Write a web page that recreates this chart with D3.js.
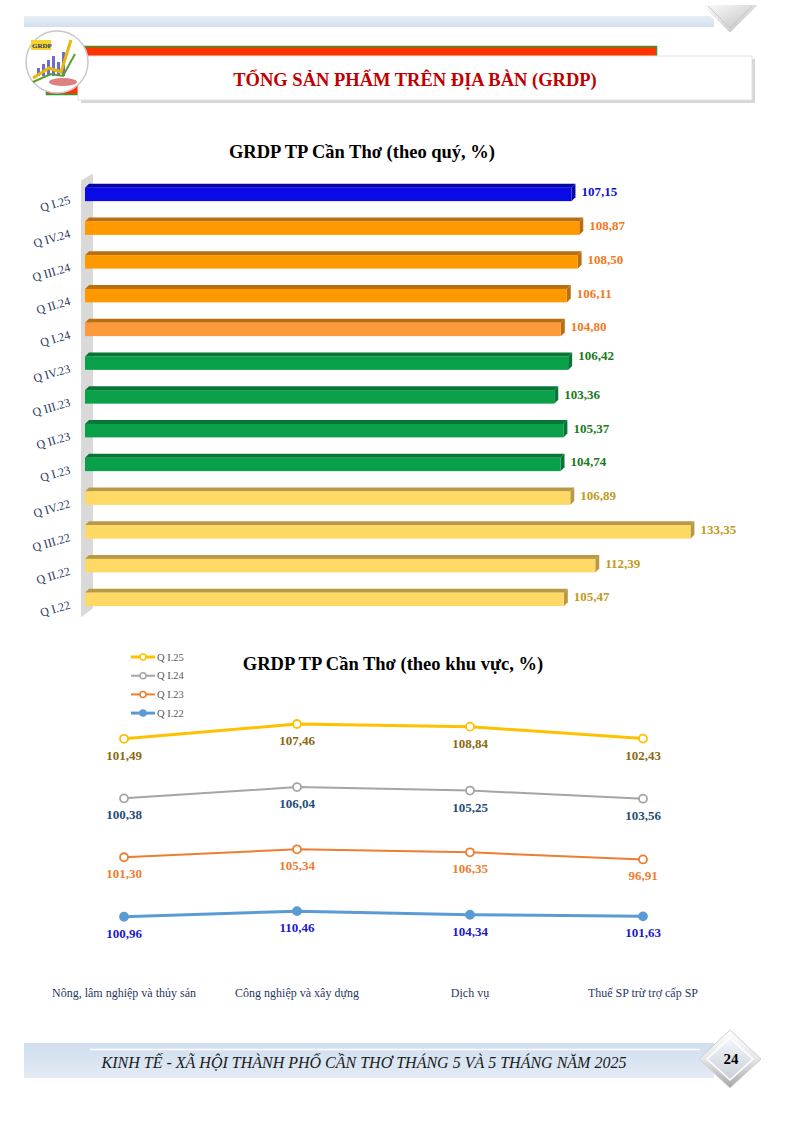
<!DOCTYPE html>
<html>
<head>
<meta charset="utf-8">
<style>
  body { margin: 0; background: #fff; }
  svg text { font-family: "Liberation Serif", "Times New Roman", serif; }
</style>
</head>
<body>
<script src="https://d3js.org/d3.v7.min.js"></script>
<script>
// ---- data ----
var quarters = ["Q I.25", "Q IV.24", "Q III.24", "Q II.24", "Q I.24", "Q IV.23", "Q III.23",
                "Q II.23", "Q I.23", "Q IV.22", "Q III.22", "Q II.22", "Q I.22"];
var quarterValues = [107.15, 108.87, 108.50, 106.11, 104.80, 106.42, 103.36,
                     105.37, 104.74, 106.89, 133.35, 112.39, 105.47];

var sectors = ["Nông, lâm nghiệp và thủy sản", "Công nghiệp và xây dựng", "Dịch vụ", "Thuế SP trừ trợ cấp SP"];
var seriesNames = ["Q I.25", "Q I.24", "Q I.23", "Q I.22"];
var q125 = [101.49, 107.46, 108.84, 102.43];
var q124 = [100.38, 106.04, 105.25, 103.56];
var q123 = [101.30, 105.34, 106.35, 96.91];
var q122 = [100.96, 110.46, 104.34, 101.63];

var fmt = function(v) { return d3.format(".2f")(v).replace(".", ","); };

var W = 794, H = 1122;
var svg = d3.select("body").append("svg").attr("width", W).attr("height", H);
var defs = svg.append("defs");

// ---- page decoration: header ----
var gTop = defs.append("linearGradient").attr("id", "band").attr("x1", 0).attr("y1", 0).attr("x2", 0).attr("y2", 1);
gTop.append("stop").attr("offset", 0).attr("stop-color", "#e9eff7");
gTop.append("stop").attr("offset", 1).attr("stop-color", "#d3dfee");
svg.append("rect").attr("x", 24).attr("y", 16).attr("width", 690).attr("height", 11).attr("fill", "url(#band)");
var dg = defs.append("linearGradient").attr("id", "dia").attr("x1", 0).attr("y1", 0).attr("x2", 1).attr("y2", 1);
dg.append("stop").attr("offset", 0).attr("stop-color", "#ffffff");
dg.append("stop").attr("offset", 1).attr("stop-color", "#b8b8b8");
svg.append("path").attr("d", "M700,4 L730,34 L760,4 Z").attr("fill", "url(#dia)").attr("stroke", "#ffffff").attr("stroke-width", 2);
svg.append("path").attr("d", "M708,6 L730,28 L752,6").attr("fill", "none").attr("stroke", "#c8c8c8").attr("stroke-width", 1);

// red strip with green edge
svg.append("rect").attr("x", 46).attr("y", 46).attr("width", 611).attr("height", 10).attr("fill", "#ff3300");
svg.append("line").attr("x1", 46).attr("x2", 657).attr("y1", 46.5).attr("y2", 46.5).attr("stroke", "#339933").attr("stroke-width", 1.5);
svg.append("line").attr("x1", 656.5).attr("x2", 656.5).attr("y1", 46).attr("y2", 56).attr("stroke", "#339933").attr("stroke-width", 1.5);
svg.append("rect").attr("x", 46).attr("y", 86).attr("width", 34).attr("height", 9).attr("fill", "#ff3300");
svg.append("line").attr("x1", 46.5).attr("x2", 46.5).attr("y1", 80).attr("y2", 95).attr("stroke", "#339933").attr("stroke-width", 1.5);
svg.append("line").attr("x1", 46).attr("x2", 80).attr("y1", 94.5).attr("y2", 94.5).attr("stroke", "#339933").attr("stroke-width", 1.5);

// white title box with shadow
svg.append("rect").attr("x", 81).attr("y", 59).attr("width", 674).attr("height", 44).attr("fill", "#d6d6d6");
svg.append("rect").attr("x", 78).attr("y", 56).attr("width", 674).attr("height", 44).attr("fill", "#ffffff").attr("stroke", "#e2e2e2");
svg.append("text").attr("x", 415).attr("y", 86).attr("text-anchor", "middle")
  .attr("font-size", 18.5).attr("font-weight", "bold").attr("fill", "#c00000")
  .text("TỔNG SẢN PHẨM TRÊN ĐỊA BÀN (GRDP)");

// logo
var logo = svg.append("g").attr("transform", "translate(57,62)");
logo.append("circle").attr("r", 31).attr("fill", "#ffffff").attr("stroke", "#c8c8c8").attr("stroke-width", 1.5);
logo.append("rect").attr("x", -26).attr("y", -22).attr("width", 20).attr("height", 10).attr("fill", "#f7d330");
logo.append("text").attr("x", -25).attr("y", -14).attr("font-size", 7).attr("font-weight", "bold").attr("fill", "#1f3864").text("GRDP");
[[-20, 8], [-15, 12], [-10, 16], [-5, 20], [0, 14], [5, 24]].forEach(function(b) {
  logo.append("rect").attr("x", b[0]).attr("y", 14 - b[1]).attr("width", 3).attr("height", b[1]).attr("fill", "#6b6fc7");
});
logo.append("path").attr("d", "M-24,16 L-8,6 L4,10 L14,-22").attr("fill", "none").attr("stroke", "#e8b60c").attr("stroke-width", 3);
logo.append("path").attr("d", "M-24,20 L-6,12 L6,14 L18,-8").attr("fill", "none").attr("stroke", "#5aa02c").attr("stroke-width", 2);
logo.append("ellipse").attr("cx", 6).attr("cy", 20).attr("rx", 14).attr("ry", 4).attr("fill", "#d04a4a").attr("opacity", 0.7);

// ---- chart 1: horizontal 3D bars ----
svg.append("text").attr("x", 362).attr("y", 158).attr("text-anchor", "middle")
  .attr("font-size", 18.5).attr("font-weight", "bold").attr("fill", "#000")
  .text("GRDP TP Cần Thơ (theo quý, %)");

var x = d3.scaleLinear().domain([0, 140]).range([85, 85 + 140 * 4.54]);
var y = d3.scaleBand().domain(quarters).range([177.5, 616.25]).paddingInner(0.6).paddingOuter(0.3);
var depth = 4;

function barFill(q) {
  var yr = q.slice(-2);
  if (q === "Q I.24") return "#ff9a3c";
  return { "25": "#0a0ae6", "24": "#ff9900", "23": "#0aa04a", "22": "#ffd966" }[yr];
}
function barDark(q) {
  var yr = q.slice(-2);
  return { "25": "#0606a8", "24": "#b96e10", "23": "#077535", "22": "#b89a45" }[yr];
}
function labelColor(q) {
  var yr = q.slice(-2);
  return { "25": "#1010c8", "24": "#f07a22", "23": "#1a7a1a", "22": "#c09a20" }[yr];
}

// gray side wall
var wx0 = x(0) - 4, wx1 = x(0) + 8;
svg.append("path")
  .attr("d", "M" + wx0 + "," + (y.range()[0] + 3) + " L" + wx1 + "," + (y.range()[0] - 4) +
             " L" + wx1 + "," + (y.range()[1] - 8) + " L" + wx0 + "," + (y.range()[1] + 1) + " Z")
  .attr("fill", "#d9d9d9");

var bars = svg.append("g").selectAll("g").data(quarters).join("g");
bars.append("path")
  .attr("d", function(q, i) {
    var x0 = x(0), x1 = x(quarterValues[i]), t = y(q);
    return "M" + x0 + "," + t + " L" + (x0 + depth) + "," + (t - depth) + " L" + (x1 + depth) + "," + (t - depth) + " L" + x1 + "," + t + " Z";
  })
  .attr("fill", barDark);
bars.append("path")
  .attr("d", function(q, i) {
    var x1 = x(quarterValues[i]), t = y(q), b = t + y.bandwidth();
    return "M" + x1 + "," + t + " L" + (x1 + depth) + "," + (t - depth) + " L" + (x1 + depth) + "," + (b - depth) + " L" + x1 + "," + b + " Z";
  })
  .attr("fill", barDark);
bars.append("rect")
  .attr("x", x(0)).attr("y", function(q) { return y(q); })
  .attr("width", function(q, i) { return x(quarterValues[i]) - x(0); })
  .attr("height", y.bandwidth())
  .attr("fill", barFill);
bars.append("text")
  .attr("x", function(q, i) { return x(quarterValues[i]) + depth + 6; })
  .attr("y", function(q, i) { return y(q) + y.bandwidth() / 2 + (quarters[i] === "Q IV.23" ? -3 : 2); })
  .attr("font-size", 13).attr("font-weight", "bold")
  .attr("fill", labelColor)
  .text(function(q, i) { return fmt(quarterValues[i]); });

svg.append("g").selectAll("text").data(quarters).join("text")
  .attr("transform", function(q) { return "translate(71," + (y(q) + y.bandwidth() / 2 + 9) + ") rotate(-16)"; })
  .attr("text-anchor", "end").attr("font-size", 12).attr("fill", "#1f3864")
  .text(function(q) { return q; });

// ---- chart 2: stacked line chart ----
svg.append("text").attr("x", 393).attr("y", 670).attr("text-anchor", "middle")
  .attr("font-size", 18.5).attr("font-weight", "bold").attr("fill", "#000")
  .text("GRDP TP Cần Thơ (theo khu vực, %)");

var rows = sectors.map(function(s, i) {
  return { sector: s, "Q I.25": q125[i], "Q I.24": q124[i], "Q I.23": q123[i], "Q I.22": q122[i] };
});
var stack = d3.stack().keys(["Q I.22", "Q I.23", "Q I.24", "Q I.25"]);
var layers = stack(rows);

var lx = d3.scalePoint().domain(sectors).range([124, 643]);
var ly = d3.scaleLinear().domain([0, 450]).range([976, 976 - 450 * 0.587]);

var lineStyle = {
  "Q I.25": { stroke: "#ffc000", width: 3, filled: false, label: "#8a6a10" },
  "Q I.24": { stroke: "#a5a5a5", width: 2, filled: false, label: "#1f4e79" },
  "Q I.23": { stroke: "#ed7d31", width: 2, filled: false, label: "#ed7d31" },
  "Q I.22": { stroke: "#5b9bd5", width: 3, filled: true, label: "#1a1ac8" }
};

var line = d3.line().x(function(d) { return lx(d.data.sector); }).y(function(d) { return ly(d[1]); });

layers.forEach(function(layer) {
  var st = lineStyle[layer.key];
  var g = svg.append("g");
  g.append("path").datum(layer).attr("d", line)
    .attr("fill", "none").attr("stroke", st.stroke).attr("stroke-width", st.width);
  g.selectAll("circle").data(layer).join("circle")
    .attr("cx", function(d) { return lx(d.data.sector); })
    .attr("cy", function(d) { return ly(d[1]); })
    .attr("r", 4)
    .attr("fill", st.filled ? st.stroke : "#fff")
    .attr("stroke", st.stroke).attr("stroke-width", 1.8);
  g.selectAll("text").data(layer).join("text")
    .attr("x", function(d) { return lx(d.data.sector); })
    .attr("y", function(d) { return ly(d[1]) + 21; })
    .attr("text-anchor", "middle").attr("font-size", 13).attr("font-weight", "bold")
    .attr("fill", st.label)
    .text(function(d) { return fmt(d[1] - d[0]); });
});

// category labels
svg.append("g").selectAll("text").data(sectors).join("text")
  .attr("x", function(s) { return lx(s); }).attr("y", 997)
  .attr("text-anchor", "middle").attr("font-size", 12).attr("fill", "#1f3864")
  .text(function(s) { return s; });

// legend
var legend = svg.append("g").selectAll("g").data(seriesNames).join("g")
  .attr("transform", function(s, i) { return "translate(131," + (657 + i * 18.7) + ")"; });
legend.append("line").attr("x1", 0).attr("x2", 24)
  .attr("stroke", function(s) { return lineStyle[s].stroke; })
  .attr("stroke-width", function(s) { return lineStyle[s].width; });
legend.append("circle").attr("cx", 12).attr("r", 3)
  .attr("fill", function(s) { return lineStyle[s].filled ? lineStyle[s].stroke : "#fff"; })
  .attr("stroke", function(s) { return lineStyle[s].stroke; }).attr("stroke-width", 1.5);
legend.append("text").attr("x", 26).attr("y", 3.5).attr("font-size", 10.5).attr("fill", "#595959")
  .text(function(s) { return s; });

// ---- footer ----
var fg = defs.append("linearGradient").attr("id", "foot").attr("x1", 0).attr("y1", 0).attr("x2", 0).attr("y2", 1);
fg.append("stop").attr("offset", 0).attr("stop-color", "#d0deef");
fg.append("stop").attr("offset", 1).attr("stop-color", "#e3ebf5");
svg.append("rect").attr("x", 24).attr("y", 1043).attr("width", 690).attr("height", 35).attr("fill", "url(#foot)");
svg.append("line").attr("x1", 90).attr("x2", 700).attr("y1", 1049.5).attr("y2", 1049.5).attr("stroke", "#ffffff").attr("stroke-width", 1.5);
svg.append("text").attr("x", 364).attr("y", 1068).attr("text-anchor", "middle")
  .attr("font-size", 16).attr("font-style", "italic").attr("fill", "#1a1a1a")
  .text("KINH TẾ - XÃ HỘI THÀNH PHỐ CẦN THƠ THÁNG 5 VÀ 5 THÁNG NĂM 2025");

var fd = defs.append("linearGradient").attr("id", "fdia").attr("x1", 0).attr("y1", 0).attr("x2", 0).attr("y2", 1);
fd.append("stop").attr("offset", 0).attr("stop-color", "#ffffff");
fd.append("stop").attr("offset", 0.5).attr("stop-color", "#e6e6e6");
fd.append("stop").attr("offset", 1).attr("stop-color", "#a6a6a6");
var fi = defs.append("linearGradient").attr("id", "fin").attr("x1", 0).attr("y1", 0).attr("x2", 0).attr("y2", 1);
fi.append("stop").attr("offset", 0).attr("stop-color", "#f4f6fa");
fi.append("stop").attr("offset", 1).attr("stop-color", "#c9d0da");
svg.append("path").attr("d", "M730,1030 L761,1059 L730,1088 L699,1059 Z")
  .attr("fill", "url(#fdia)").attr("stroke", "#d0d0d0").attr("stroke-width", 1);
svg.append("path").attr("d", "M730,1038 L753,1059 L730,1080 L707,1059 Z")
  .attr("fill", "url(#fin)").attr("stroke", "#ffffff").attr("stroke-width", 1.5);
svg.append("text").attr("x", 731).attr("y", 1064).attr("text-anchor", "middle")
  .attr("font-size", 15).attr("font-weight", "bold").attr("fill", "#000").text("24");
</script>
</body>
</html>
